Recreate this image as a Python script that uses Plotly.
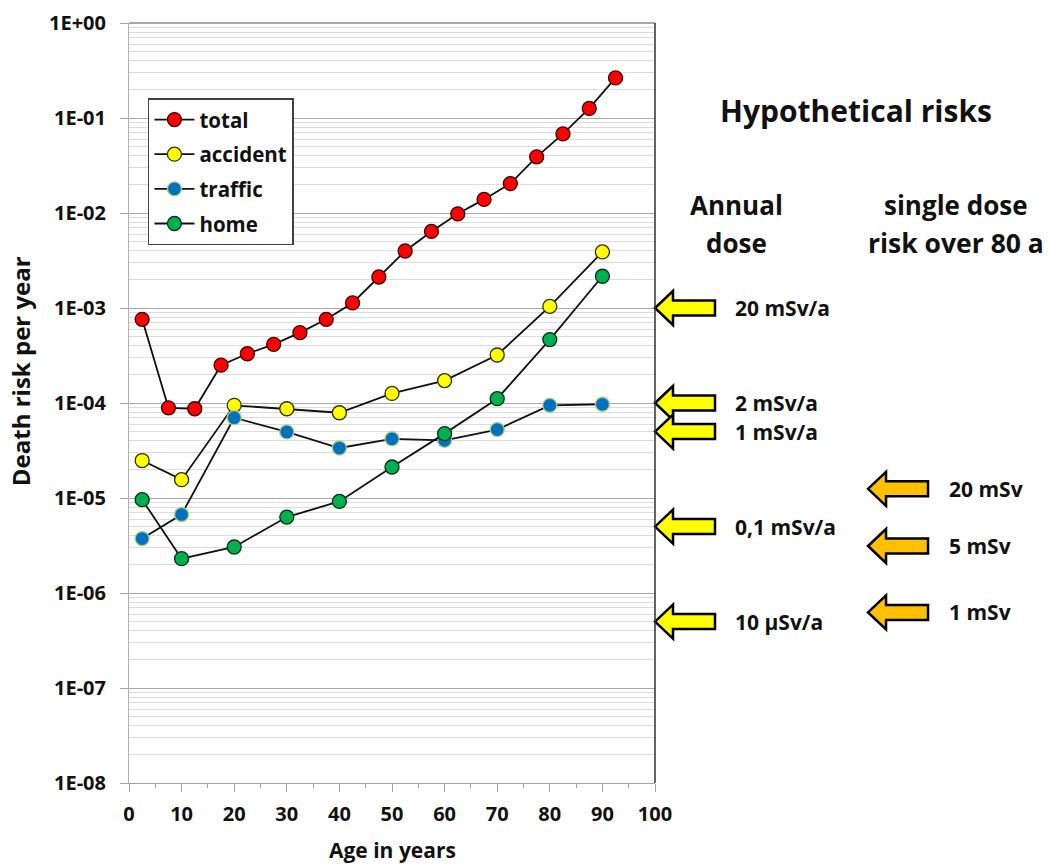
import numpy as np
import plotly.graph_objects as go

# ---------------- data ----------------
total_age = [2.5, 7.5, 12.5, 17.5, 22.5, 27.5, 32.5, 37.5, 42.5, 47.5,
             52.5, 57.5, 62.5, 67.5, 72.5, 77.5, 82.5, 87.5, 92.5]
total_risk = [7.6e-4, 8.9e-5, 8.7e-5, 2.5e-4, 3.3e-4, 4.15e-4, 5.5e-4, 7.6e-4, 1.13e-3,
              2.12e-3, 3.98e-3, 6.4e-3, 9.8e-3, 1.39e-2, 2.04e-2, 3.9e-2, 6.8e-2, 0.126, 0.264]

cat_age = [2.5, 10, 20, 30, 40, 50, 60, 70, 80, 90]
accident_risk = [2.48e-5, 1.56e-5, 9.45e-5, 8.7e-5, 7.9e-5, 1.26e-4, 1.72e-4, 3.2e-4, 1.04e-3, 3.89e-3]
traffic_risk = [3.74e-6, 6.7e-6, 7.0e-5, 4.96e-5, 3.36e-5, 4.2e-5, 4.05e-5, 5.25e-5, 9.45e-5, 9.7e-5]
home_risk = [9.6e-6, 2.3e-6, 3.05e-6, 6.3e-6, 9.2e-6, 2.12e-5, 4.76e-5, 1.11e-4, 4.65e-4, 2.16e-3]

annual_labels = ["20 mSv/a", "2 mSv/a", "1 mSv/a", "0,1 mSv/a", "10 µSv/a"]
annual_risk = [1e-3, 1e-4, 5e-5, 5e-6, 5e-7]
single_labels = ["20 mSv", "5 mSv", "1 mSv"]
single_risk = [1.25e-5, 3.125e-6, 6.25e-7]

y_tickvals = [1, 1e-1, 1e-2, 1e-3, 1e-4, 1e-5, 1e-6, 1e-7, 1e-8]
y_ticktext = ["1E+00", "1E-01", "1E-02", "1E-03", "1E-04", "1E-05", "1E-06", "1E-07", "1E-08"]
x_tickvals = [0, 10, 20, 30, 40, 50, 60, 70, 80, 90, 100]

FONT = "Open Sans"
minor_vals = [k * 10.0 ** e for e in range(-8, 0) for k in range(2, 10)]

fig = go.Figure()

series = [
    ("total", total_age, total_risk, "#ff0000", "#3a0000"),
    ("accident", cat_age, accident_risk, "#ffff00", "#303000"),
    ("traffic", cat_age, traffic_risk, "#0070c0", "#a8d070"),
    ("home", cat_age, home_risk, "#00b050", "#003010"),
]
for name, xs, ys, col, edge in series:
    fig.add_trace(go.Scatter(
        x=xs, y=ys, name=name, mode="lines+markers", legendgroup=name,
        line=dict(color="#111111", width=1.8),
        marker=dict(size=14, color=col, line=dict(color=edge, width=1.3)),
    ))

# arrows (block arrows, pixel-sized, anchored on risk values)
def arrow_path():
    pts = [(0, 0), (18, 17), (18, 7.5), (60, 7.5), (60, -7.5), (18, -7.5), (18, -17)]
    return "M " + " L ".join(f"{x},{y}" for x, y in pts) + " Z"

shapes = []
for r in annual_risk:
    shapes.append(dict(type="path", xref="paper", yref="y", xsizemode="pixel", ysizemode="pixel",
                       xanchor=1.0, yanchor=r, path=arrow_path(),
                       fillcolor="#ffff00", line=dict(color="#000000", width=2.5), layer="above"))
for r in single_risk:
    shapes.append(dict(type="path", xref="paper", yref="y", xsizemode="pixel", ysizemode="pixel",
                       xanchor=1.405, yanchor=r, path=arrow_path(),
                       fillcolor="#ffc000", line=dict(color="#000000", width=2.5), layer="above"))
# top and right frame lines
shapes.append(dict(type="line", xref="paper", yref="paper", x0=0, x1=1, y0=1, y1=1,
                   line=dict(color="#505050", width=1.2)))
shapes.append(dict(type="line", xref="paper", yref="paper", x0=1, x1=1, y0=0, y1=1,
                   line=dict(color="#303030", width=1.5)))

annotations = []
for lab, r in zip(annual_labels, annual_risk):
    annotations.append(dict(text=lab, xref="paper", yref="y", x=1.148, y=np.log10(r),
                            xanchor="left", yanchor="middle", showarrow=False,
                            font=dict(family=FONT, size=21, color="#111111", weight="bold")))
for lab, r in zip(single_labels, single_risk):
    annotations.append(dict(text=lab, xref="paper", yref="y", x=1.555, y=np.log10(r),
                            xanchor="left", yanchor="middle", showarrow=False,
                            font=dict(family=FONT, size=21, color="#111111", weight="bold")))

def ann(text, x, y, size, angle=0):
    return dict(text=text, xref="paper", yref="paper", x=x, y=y, xanchor="center",
                yanchor="middle", showarrow=False, textangle=angle,
                font=dict(family=FONT, size=size, color="#111111", weight="bold"))

annotations += [
    ann("Hypothetical risks", 1.382, 0.885, 30),
    ann("Annual", 1.154, 0.760, 26),
    ann("dose", 1.154, 0.711, 26),
    ann("single dose", 1.572, 0.760, 26),
    ann("risk over 80 a", 1.572, 0.711, 26.5),
    ann("Age in years", 0.5, -0.088, 21),
    ann("Death risk per year", -0.207, 0.542, 24, angle=-90),
]

fig.update_layout(
    width=1050, height=864,
    margin=dict(l=129, r=395, t=23, b=81),
    paper_bgcolor="white", plot_bgcolor="white",
    font=dict(family=FONT, color="#111111"),
    showlegend=True,
    legend=dict(x=0.036, y=0.901, xanchor="left", yanchor="top",
                bgcolor="white", bordercolor="#404040", borderwidth=1.5,
                font=dict(family=FONT, size=20.5, color="#111111", weight="bold"),
                tracegroupgap=5, itemwidth=40),
    shapes=shapes, annotations=annotations,
    xaxis=dict(range=[0, 100], tickvals=x_tickvals, ticks="outside", ticklen=8,
               tickcolor="#a0a0a0", showline=True, linecolor="#a0a0a0", linewidth=1,
               showgrid=False, zeroline=False, ticklabelstandoff=5, automargin=False,
               tickfont=dict(family=FONT, size=20, color="#111111", weight="bold"),
               minor=dict(tickvals=[5, 15, 25, 35, 45, 55, 65, 75, 85, 95], ticks="outside",
                          ticklen=4, tickcolor="#a0a0a0")),
    yaxis=dict(type="log", range=[-8, 0], tickvals=y_tickvals, ticktext=y_ticktext,
               ticks="outside", ticklen=8, tickcolor="#a0a0a0",
               showline=True, linecolor="#b0b0b0", linewidth=1,
               showgrid=True, gridcolor="#a8a8a8", gridwidth=1, zeroline=False,
               ticklabelstandoff=10, automargin=False,
               tickfont=dict(family=FONT, size=20, color="#111111", weight="bold"),
               minor=dict(tickvals=minor_vals, showgrid=True, gridcolor="#dcdcdc",
                          gridwidth=1, ticks="")),
)

fig.write_html("out.html")
